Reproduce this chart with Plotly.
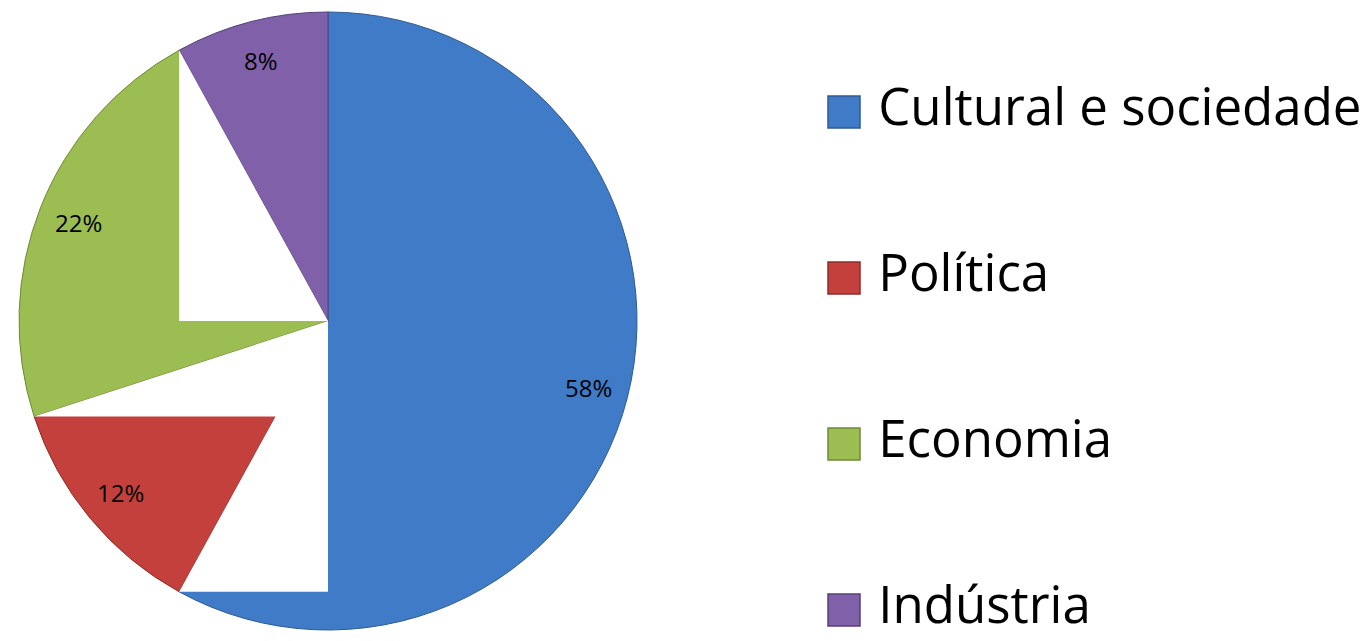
import math
import plotly.graph_objects as go

# Share of topics
categories = ["Cultural e sociedade", "Política", "Economia", "Indústria"]
shares = [58, 12, 22, 8]
colors = ["#3F7BC6", "#C3403C", "#9BBD52", "#7F60A9"]
edge_colors = ["#2F5A92", "#8E2B28", "#6F8A36", "#57407A"]

W, H = 1365, 641
CX, CY, R = 328, 321, 309          # pie centre / radius in px (y from top)
LABEL_R = 0.87                     # radial position of the percentage labels
FONT = "Open Sans, Lato, sans-serif"

fig = go.Figure()

fig.add_trace(go.Pie(
    labels=categories,
    values=shares,
    sort=False,
    direction="clockwise",
    rotation=0,
    marker=dict(colors=colors, line=dict(color=edge_colors, width=1)),
    textinfo="none",
    domain=dict(x=[(CX - R) / W, (CX + R) / W],
                y=[(H - CY - R) / H, (H - CY + R) / H]),
    showlegend=False,
    hoverinfo="label+percent",
))

# Legend drawn as square markers with labels on a pixel-scaled hidden axis
LEG_X, LEG_Y0, LEG_STEP = 844, 112, 166
fig.add_trace(go.Scatter(
    x=[LEG_X] * len(categories),
    y=[LEG_Y0 + i * LEG_STEP for i in range(len(categories))],
    mode="markers+text",
    marker=dict(symbol="square", size=32, color=colors,
                line=dict(color=edge_colors, width=1.5)),
    text=[" " + c for c in categories],
    textposition="middle right",
    textfont=dict(family=FONT, size=51, color="black"),
    showlegend=False,
    hoverinfo="skip",
))


def rim_point(frac, radius=R):
    """Point at cumulative share `frac` (clockwise from 12 o'clock)."""
    a = 2 * math.pi * frac
    return CX + radius * math.sin(a), CY - radius * math.cos(a)


total = sum(shares)
cum = [sum(shares[:i]) / total for i in range(len(shares) + 1)]

# Percentage labels placed along each slice's middle angle
annotations = []
for i, v in enumerate(shares):
    lx, ly = rim_point((cum[i] + cum[i + 1]) / 2, LABEL_R * R)
    annotations.append(dict(
        x=lx, y=ly, xref="x", yref="y", showarrow=False,
        text=f"{round(100 * v / total)}%",
        font=dict(family=FONT, size=24, color="black"),
    ))

# Blank areas left over inside the pie
px_, py_ = rim_point(cum[3])
gx, gy = rim_point(cum[2])
rx, ry = rim_point(cum[1])
ix = CX + (rx - CX) * (gy - CY) / (ry - CY)
mask_paths = [
    f"M {px_},{py_} L {px_},{CY} L {CX},{CY} Z",
    f"M {CX},{CY} L {gx},{gy} L {ix},{gy} L {rx},{ry} L {CX},{ry} Z",
]
shapes = [dict(type="path", path=p, xref="x", yref="y", layer="above",
               fillcolor="white", line=dict(width=0)) for p in mask_paths]

fig.update_layout(
    width=W, height=H,
    margin=dict(l=0, r=0, t=0, b=0),
    paper_bgcolor="white",
    plot_bgcolor="rgba(0,0,0,0)",
    xaxis=dict(range=[0, W], visible=False, domain=[0, 1], fixedrange=True),
    yaxis=dict(range=[H, 0], visible=False, domain=[0, 1], fixedrange=True),
    shapes=shapes,
    annotations=annotations,
    showlegend=False,
)

fig.write_html("out.html")
